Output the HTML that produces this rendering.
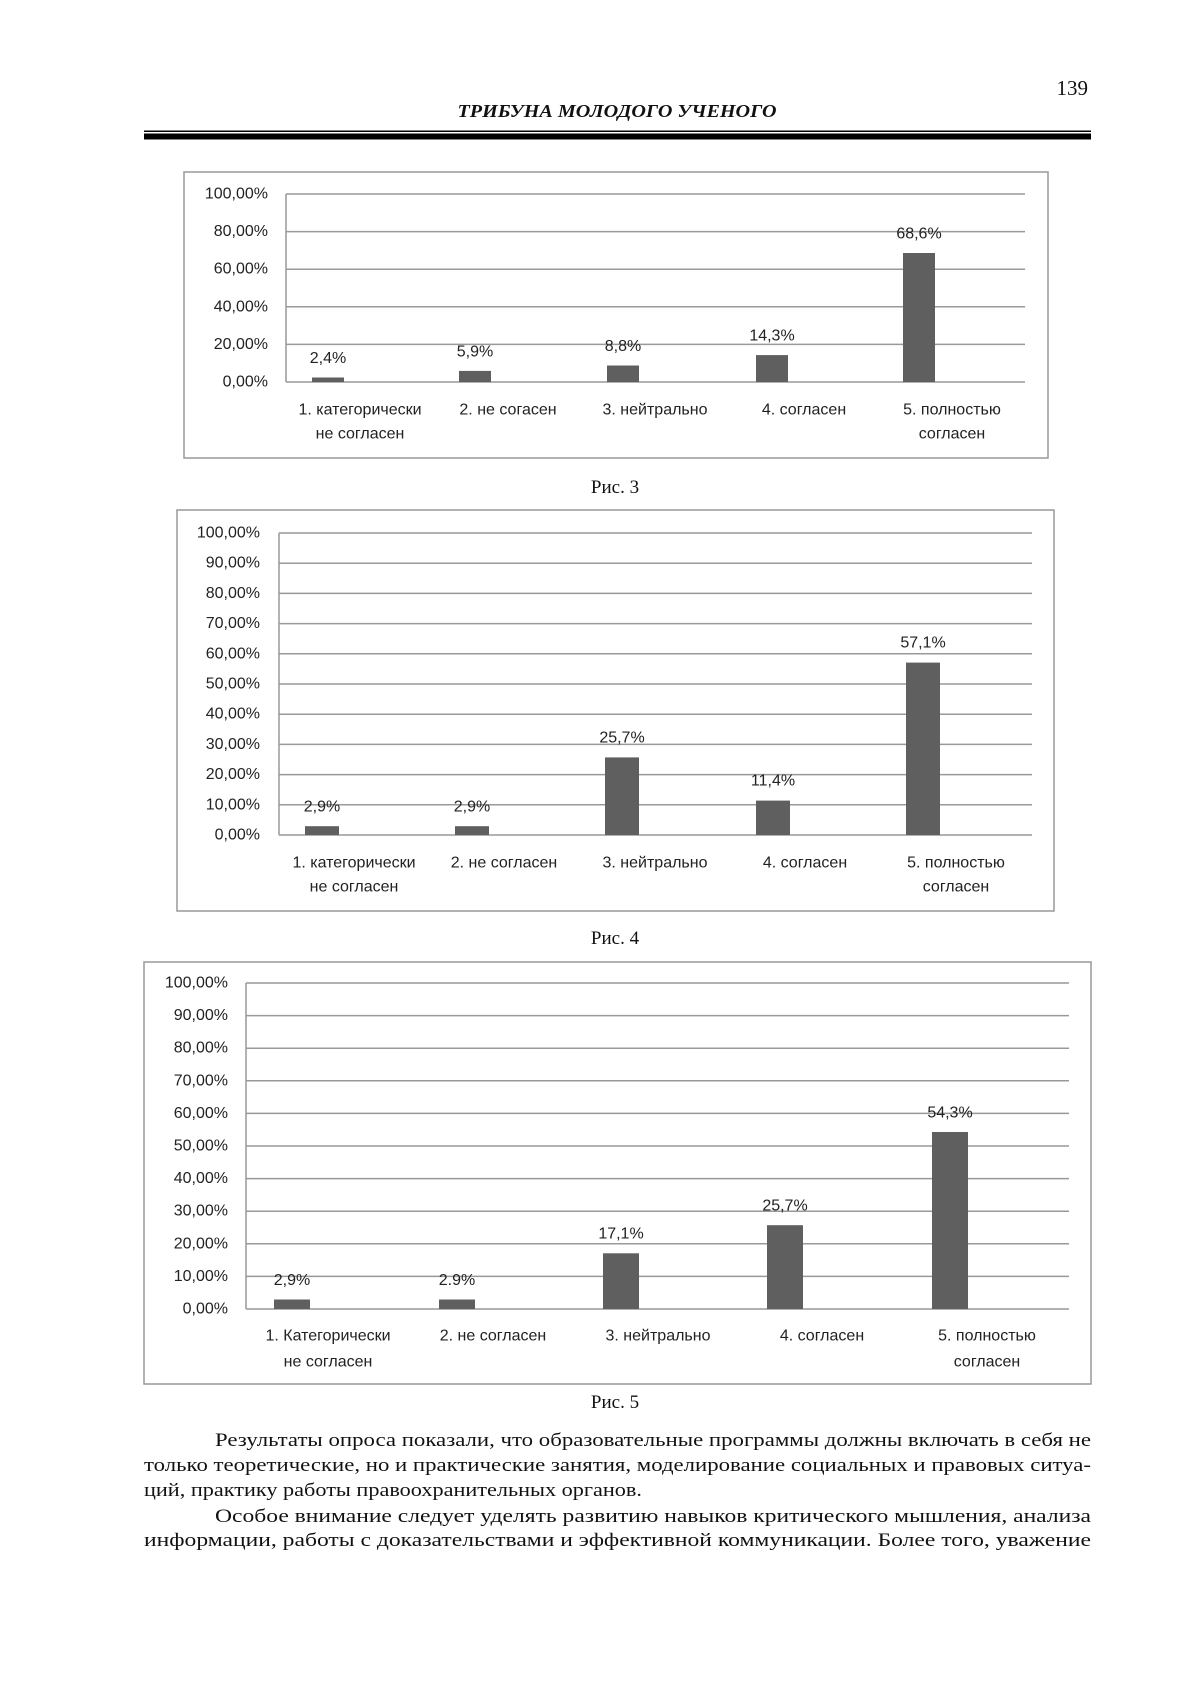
<!DOCTYPE html>
<html><head><meta charset="utf-8"><style>
html,body{margin:0;padding:0;background:#fff;}
svg{display:block;}
.t{font-family:"Liberation Sans",sans-serif;font-size:16px;fill:#222;}
.s{font-family:"Liberation Serif",serif;fill:#111;}
</style></head><body>
<svg width="1200" height="1697" viewBox="0 0 1200 1697" xmlns="http://www.w3.org/2000/svg">
<rect width="1200" height="1697" fill="#fff"/>
<!-- header -->
<text class="s" x="1088" y="95" font-size="21" text-anchor="end">139</text>
<text class="s" x="617" y="117" font-size="18" font-weight="bold" font-style="italic" text-anchor="middle" textLength="319" lengthAdjust="spacingAndGlyphs">ТРИБУНА МОЛОДОГО УЧЕНОГО</text>
<rect x="144" y="130.5" width="947" height="1.5" fill="#000"/>
<rect x="144" y="133.5" width="947" height="6" fill="#000"/>

<!-- Chart 1 -->
<rect x="184" y="172" width="864" height="286" fill="#fff" stroke="#999" stroke-width="1.5"/>
<g stroke="#999" stroke-width="1.5">
<line x1="286" x2="1025" y1="194" y2="194"/><line x1="286" x2="1025" y1="231.6" y2="231.6"/>
<line x1="286" x2="1025" y1="269.2" y2="269.2"/><line x1="286" x2="1025" y1="306.8" y2="306.8"/>
<line x1="286" x2="1025" y1="344.4" y2="344.4"/><line x1="286" x2="1025" y1="382" y2="382"/>
<line x1="286" x2="286" y1="194" y2="382"/>
</g>
<g class="t" text-anchor="end" dominant-baseline="central">
<text x="268" y="194">100,00%</text><text x="268" y="231.6">80,00%</text><text x="268" y="269.2">60,00%</text>
<text x="268" y="306.8">40,00%</text><text x="268" y="344.4">20,00%</text><text x="268" y="382">0,00%</text>
</g>
<g fill="#5f5f5f">
<rect x="312" y="377.5" width="32" height="4.5"/><rect x="459" y="370.9" width="32" height="11.1"/>
<rect x="607" y="365.5" width="32" height="16.5"/><rect x="756" y="355.1" width="32" height="26.9"/>
<rect x="903" y="253" width="32" height="129"/>
</g>
<g class="t" text-anchor="middle" dominant-baseline="central">
<text x="328" y="358.5">2,4%</text><text x="475" y="352">5,9%</text><text x="623" y="346.5">8,8%</text>
<text x="772" y="336">14,3%</text><text x="919" y="234">68,6%</text>
<text x="360" y="410">1. категорически</text><text x="360" y="434">не согласен</text>
<text x="508" y="410">2. не согасен</text><text x="655" y="410">3. нейтрально</text>
<text x="804" y="410">4. согласен</text><text x="952" y="410">5. полностью</text><text x="952" y="434">согласен</text>
</g>
<text class="s" x="615" y="493" font-size="19" text-anchor="middle">Рис. 3</text>

<!-- Chart 2 -->
<rect x="177" y="510" width="877" height="401" fill="#fff" stroke="#999" stroke-width="1.5"/>
<g stroke="#999" stroke-width="1.5">
<line x1="279" x2="1032" y1="533" y2="533"/><line x1="279" x2="1032" y1="563.2" y2="563.2"/>
<line x1="279" x2="1032" y1="593.4" y2="593.4"/><line x1="279" x2="1032" y1="623.6" y2="623.6"/>
<line x1="279" x2="1032" y1="653.8" y2="653.8"/><line x1="279" x2="1032" y1="684" y2="684"/>
<line x1="279" x2="1032" y1="714.2" y2="714.2"/><line x1="279" x2="1032" y1="744.4" y2="744.4"/>
<line x1="279" x2="1032" y1="774.6" y2="774.6"/><line x1="279" x2="1032" y1="804.8" y2="804.8"/>
<line x1="279" x2="1032" y1="835" y2="835"/>
<line x1="279" x2="279" y1="533" y2="835"/>
</g>
<g class="t" text-anchor="end" dominant-baseline="central">
<text x="260" y="533">100,00%</text><text x="260" y="563.2">90,00%</text><text x="260" y="593.4">80,00%</text>
<text x="260" y="623.6">70,00%</text><text x="260" y="653.8">60,00%</text><text x="260" y="684">50,00%</text>
<text x="260" y="714.2">40,00%</text><text x="260" y="744.4">30,00%</text><text x="260" y="774.6">20,00%</text>
<text x="260" y="804.8">10,00%</text><text x="260" y="835">0,00%</text>
</g>
<g fill="#5f5f5f">
<rect x="305" y="826.2" width="34" height="8.8"/><rect x="455" y="826.2" width="34" height="8.8"/>
<rect x="605" y="757.4" width="34" height="77.6"/><rect x="756" y="800.6" width="34" height="34.4"/>
<rect x="906" y="662.6" width="34" height="172.4"/>
</g>
<g class="t" text-anchor="middle" dominant-baseline="central">
<text x="322" y="807">2,9%</text><text x="472" y="807">2,9%</text><text x="622" y="738">25,7%</text>
<text x="773" y="781">11,4%</text><text x="923" y="643">57,1%</text>
<text x="354" y="863">1. категорически</text><text x="354" y="887">не согласен</text>
<text x="504" y="863">2. не согласен</text><text x="655" y="863">3. нейтрально</text>
<text x="805" y="863">4. согласен</text><text x="956" y="863">5. полностью</text><text x="956" y="887">согласен</text>
</g>
<text class="s" x="615" y="944" font-size="19" text-anchor="middle">Рис. 4</text>

<!-- Chart 3 -->
<rect x="144" y="962" width="947" height="422" fill="#fff" stroke="#999" stroke-width="1.5"/>
<g stroke="#999" stroke-width="1.5">
<line x1="246" x2="1069" y1="983" y2="983"/><line x1="246" x2="1069" y1="1015.6" y2="1015.6"/>
<line x1="246" x2="1069" y1="1048.2" y2="1048.2"/><line x1="246" x2="1069" y1="1080.8" y2="1080.8"/>
<line x1="246" x2="1069" y1="1113.4" y2="1113.4"/><line x1="246" x2="1069" y1="1146" y2="1146"/>
<line x1="246" x2="1069" y1="1178.6" y2="1178.6"/><line x1="246" x2="1069" y1="1211.2" y2="1211.2"/>
<line x1="246" x2="1069" y1="1243.8" y2="1243.8"/><line x1="246" x2="1069" y1="1276.4" y2="1276.4"/>
<line x1="246" x2="1069" y1="1309" y2="1309"/>
<line x1="246" x2="246" y1="983" y2="1309"/>
</g>
<g class="t" text-anchor="end" dominant-baseline="central">
<text x="228" y="983">100,00%</text><text x="228" y="1015.6">90,00%</text><text x="228" y="1048.2">80,00%</text>
<text x="228" y="1080.8">70,00%</text><text x="228" y="1113.4">60,00%</text><text x="228" y="1146">50,00%</text>
<text x="228" y="1178.6">40,00%</text><text x="228" y="1211.2">30,00%</text><text x="228" y="1243.8">20,00%</text>
<text x="228" y="1276.4">10,00%</text><text x="228" y="1309">0,00%</text>
</g>
<g fill="#5f5f5f">
<rect x="274" y="1299.5" width="36" height="9.5"/><rect x="439" y="1299.5" width="36" height="9.5"/>
<rect x="603" y="1253.3" width="36" height="55.7"/><rect x="767" y="1225.2" width="36" height="83.8"/>
<rect x="932" y="1132" width="36" height="177"/>
</g>
<g class="t" text-anchor="middle" dominant-baseline="central">
<text x="292" y="1280.5">2,9%</text><text x="457" y="1280.5">2.9%</text><text x="621" y="1234">17,1%</text>
<text x="785" y="1206">25,7%</text><text x="950" y="1113">54,3%</text>
<text x="328" y="1336">1. Категорически</text><text x="328" y="1362">не согласен</text>
<text x="493" y="1336">2. не согласен</text><text x="658" y="1336">3. нейтрально</text>
<text x="822" y="1336">4. согласен</text><text x="987" y="1336">5. полностью</text><text x="987" y="1362">согласен</text>
</g>
<text class="s" x="615" y="1408" font-size="19" text-anchor="middle">Рис. 5</text>

<!-- body text -->
<g class="s" font-size="19">
<text x="215" y="1446" textLength="876" lengthAdjust="spacingAndGlyphs">Результаты опроса показали, что образовательные программы должны включать в себя не</text>
<text x="144" y="1471" textLength="947" lengthAdjust="spacingAndGlyphs">только теоретические, но и практические занятия, моделирование социальных и правовых ситуа-</text>
<text x="144" y="1496" textLength="498" lengthAdjust="spacingAndGlyphs">ций, практику работы правоохранительных органов.</text>
<text x="215" y="1522" textLength="876" lengthAdjust="spacingAndGlyphs">Особое внимание следует уделять развитию навыков критического мышления, анализа</text>
<text x="144" y="1546" textLength="947" lengthAdjust="spacingAndGlyphs">информации, работы с доказательствами и эффективной коммуникации. Более того, уважение</text>
</g>
</svg>
</body></html>
